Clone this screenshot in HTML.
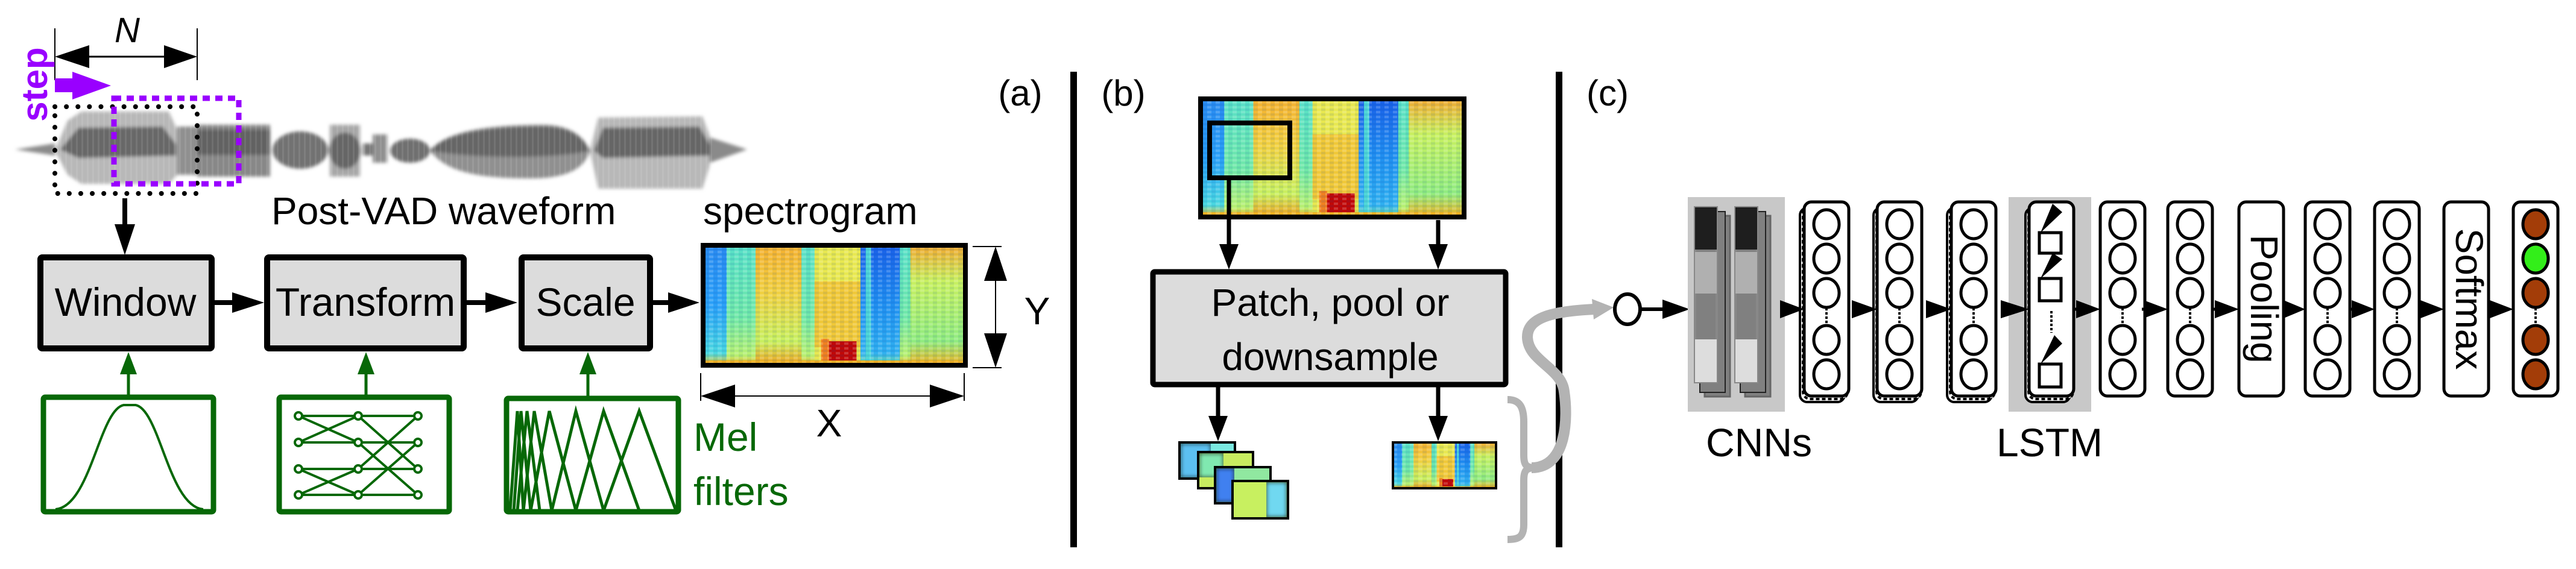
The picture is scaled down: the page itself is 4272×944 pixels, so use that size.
<!DOCTYPE html>
<html><head><meta charset="utf-8"><style>
html,body{margin:0;padding:0;background:#fff}
svg{display:block}
text{font-family:"Liberation Sans",sans-serif}
</style></head><body>
<svg width="4272" height="944" viewBox="0 0 4272 944" xmlns="http://www.w3.org/2000/svg">
<defs>
<filter id="blurW" x="-5%" y="-20%" width="110%" height="140%"><feGaussianBlur stdDeviation="3"/></filter>
<filter id="blurS" x="0" y="0" width="100%" height="100%"><feGaussianBlur stdDeviation="3"/></filter>
<linearGradient id="gBlue" x1="0" y1="0" x2="0" y2="1"><stop offset="0" stop-color="#2a8af0"/><stop offset="0.5" stop-color="#2aa0f8"/><stop offset="0.9" stop-color="#4ad8e0"/><stop offset="1" stop-color="#f0c020"/></linearGradient>
<linearGradient id="gCyan" x1="0" y1="0" x2="0" y2="1"><stop offset="0" stop-color="#58e0c8"/><stop offset="0.6" stop-color="#70e8a8"/><stop offset="0.92" stop-color="#b8f070"/><stop offset="1" stop-color="#f0b020"/></linearGradient>
<linearGradient id="gOr" x1="0" y1="0" x2="0" y2="1"><stop offset="0" stop-color="#f4b030"/><stop offset="0.4" stop-color="#f0d040"/><stop offset="0.8" stop-color="#c8f060"/><stop offset="1" stop-color="#f0a020"/></linearGradient>
<linearGradient id="gDb" x1="0" y1="0" x2="0" y2="1"><stop offset="0" stop-color="#1a60e8"/><stop offset="0.5" stop-color="#2090f0"/><stop offset="0.9" stop-color="#30b0f0"/><stop offset="1" stop-color="#70e0a0"/></linearGradient>
<linearGradient id="gYG" x1="0" y1="0" x2="0" y2="1"><stop offset="0" stop-color="#f0a830"/><stop offset="0.3" stop-color="#c8f060"/><stop offset="0.8" stop-color="#90ec80"/><stop offset="1" stop-color="#f0b020"/></linearGradient>
<pattern id="tex" width="14" height="8" patternUnits="userSpaceOnUse"><rect width="7" height="4" fill="#fff" opacity="0.18"/><rect x="7" y="4" width="7" height="4" fill="#0040a0" opacity="0.1"/></pattern>
<pattern id="streak" width="9" height="10" patternUnits="userSpaceOnUse"><rect width="3" height="10" fill="#fff" opacity="0.15"/></pattern>
<symbol id="spec" viewBox="0 0 200 100" preserveAspectRatio="none">
<rect x="0" y="0" width="19" height="100" fill="url(#gBlue)"/>
<rect x="18" y="0" width="23" height="100" fill="url(#gCyan)"/>
<rect x="40" y="0" width="36" height="100" fill="url(#gOr)"/>
<rect x="75" y="0" width="11" height="100" fill="url(#gCyan)"/>
<rect x="85" y="0" width="36" height="100" fill="#e8e850"/>
<rect x="85" y="30" width="36" height="55" fill="#f0c838"/>
<rect x="95" y="80" width="22" height="17" fill="#c00808"/>
<rect x="90" y="78" width="6" height="19" fill="#f08020"/>
<rect x="120" y="0" width="5" height="100" fill="url(#gDb)"/>
<rect x="124" y="0" width="5" height="100" fill="#50d8d8"/>
<rect x="128" y="0" width="23" height="100" fill="url(#gDb)"/>
<rect x="150" y="0" width="9" height="100" fill="url(#gCyan)"/>
<rect x="158" y="0" width="42" height="100" fill="url(#gYG)"/>
<rect x="0" y="96" width="200" height="4" fill="#f0b020"/>
</symbol>
<symbol id="col" viewBox="-40 -4 80 330" width="80" height="330" overflow="visible">
<rect x="-37" y="0" width="74" height="322" rx="12" fill="#fff" stroke="#000" stroke-width="5"/>
<g fill="#fff" stroke="#000" stroke-width="5"><ellipse cx="0" cy="37" rx="21" ry="24"/><ellipse cx="0" cy="94" rx="21" ry="24"/><ellipse cx="0" cy="151" rx="21" ry="24"/><ellipse cx="0" cy="229" rx="21" ry="24"/><ellipse cx="0" cy="286" rx="21" ry="24"/></g>
<line x1="0" y1="176" x2="0" y2="204" stroke="#000" stroke-width="4" stroke-dasharray="4,3"/>
</symbol>
<symbol id="shad" viewBox="-50 -4 90 345" width="90" height="345" overflow="visible">
<rect x="-47" y="10" width="74" height="322" rx="12" fill="#fff" stroke="#000" stroke-width="4"/>
<rect x="-42" y="5" width="74" height="322" rx="12" fill="#fff" stroke="#000" stroke-width="4" stroke-dasharray="6,4"/>
</symbol>
</defs>

<!-- ===== Panel (a) ===== -->
<line x1="91" y1="47" x2="91" y2="133" stroke="#000" stroke-width="2"/>
<line x1="327" y1="47" x2="327" y2="133" stroke="#000" stroke-width="2"/>
<line x1="120" y1="94" x2="300" y2="94" stroke="#000" stroke-width="3"/>
<polygon points="91,94 148,75 148,113" fill="#000"/>
<polygon points="327,94 272,75 272,113" fill="#000"/>
<text x="211" y="70" font-size="58" font-style="italic" text-anchor="middle">N</text>
<text transform="translate(78,140) rotate(-90)" font-size="60" font-weight="bold" fill="#9900ff" text-anchor="middle">step</text>
<polygon points="91,130 120,130 120,119 184,142 120,165 120,153 91,153" fill="#9900ff"/>
<!-- waveform -->
<g filter="url(#blurW)">
<polygon points="25,248 91,238 91,258" fill="#8a8a8a"/>
<polygon points="91,250 112,200 135,185 280,185 294,215 294,290 280,305 135,305 112,290" fill="#b8b8b8"/>
<polygon points="100,248 130,212 270,210 292,240 292,258 130,262" fill="#686868"/>
<rect x="294" y="210" width="33" height="80" fill="#909090"/>
<rect x="327" y="207" width="121" height="86" fill="#888"/>
<rect x="327" y="215" width="121" height="42" fill="#626262"/>
<ellipse cx="498" cy="249" rx="46" ry="31" fill="#727272"/>
<rect x="547" y="207" width="50" height="86" fill="#a8a8a8"/>
<ellipse cx="572" cy="250" rx="26" ry="30" fill="#666"/>
<rect x="602" y="238" width="16" height="20" fill="#777"/>
<rect x="618" y="223" width="24" height="47" fill="#909090"/>
<ellipse cx="680" cy="250" rx="33" ry="20" fill="#707070"/>
<path d="M713,250 C740,215 820,207 900,207 C950,207 970,230 978,250 C970,280 940,296 880,296 C790,296 740,285 713,250 Z" fill="#909090"/>
<path d="M713,250 C740,218 820,210 900,210 C950,210 970,232 978,250 C930,262 800,265 713,250 Z" fill="#666"/>
<polygon points="978,250 992,195 1165,193 1177,225 1177,275 1165,313 992,313" fill="#b8b8b8"/>
<polygon points="985,250 1000,212 1160,210 1177,240 1177,258 1000,262" fill="#666"/>
<polygon points="1177,228 1239,248 1177,270" fill="#8a8a8a"/>
</g>
<rect x="91" y="185" width="1090" height="128" fill="url(#streak)" opacity="0.6"/>
<rect x="91" y="177" width="236" height="144" fill="none" stroke="#000" stroke-width="8" stroke-dasharray="0.1,19" stroke-linecap="round"/>
<rect x="189" y="163" width="207" height="142" fill="none" stroke="#9900ff" stroke-width="9" stroke-dasharray="12,9"/>
<text x="450" y="372" font-size="64">Post-VAD waveform</text>
<text x="1166" y="372" font-size="64">spectrogram</text>
<line x1="207" y1="329" x2="207" y2="390" stroke="#000" stroke-width="8"/>
<polygon points="190,372 224,372 207,423" fill="#000"/>
<rect x="67" y="427" width="284" height="151" fill="#dcdcdc" stroke="#000" stroke-width="10" rx="3"/>
<rect x="443" y="427" width="326" height="151" fill="#dcdcdc" stroke="#000" stroke-width="10" rx="3"/>
<rect x="865" y="427" width="213" height="151" fill="#dcdcdc" stroke="#000" stroke-width="10" rx="3"/>
<text x="208" y="524" font-size="66" text-anchor="middle">Window</text>
<text x="606" y="524" font-size="66" text-anchor="middle">Transform</text>
<text x="971" y="524" font-size="66" text-anchor="middle">Scale</text>
<line x1="356" y1="502" x2="390" y2="502" stroke="#000" stroke-width="8"/>
<polygon points="385,485 438,502 385,519" fill="#000"/>
<line x1="774" y1="502" x2="810" y2="502" stroke="#000" stroke-width="8"/>
<polygon points="805,485 858,502 805,519" fill="#000"/>
<line x1="1083" y1="502" x2="1112" y2="502" stroke="#000" stroke-width="8"/>
<polygon points="1108,485 1160,502 1108,519" fill="#000"/>
<use href="#spec" x="1166" y="407" width="435" height="199"/>
<rect x="1166" y="407" width="435" height="199" fill="url(#tex)"/>
<rect x="1166" y="407" width="435" height="199" fill="none" stroke="#000" stroke-width="8"/>
<line x1="1613" y1="409" x2="1661" y2="409" stroke="#000" stroke-width="2"/>
<line x1="1613" y1="610" x2="1661" y2="610" stroke="#000" stroke-width="2"/>
<line x1="1651" y1="450" x2="1651" y2="570" stroke="#000" stroke-width="2"/>
<polygon points="1651,409 1632,466 1670,466" fill="#000"/>
<polygon points="1651,610 1632,553 1670,553" fill="#000"/>
<text x="1720" y="538" font-size="64" text-anchor="middle">Y</text>
<line x1="1162" y1="619" x2="1162" y2="665" stroke="#000" stroke-width="2"/>
<line x1="1599" y1="619" x2="1599" y2="665" stroke="#000" stroke-width="2"/>
<line x1="1200" y1="657" x2="1560" y2="657" stroke="#000" stroke-width="2"/>
<polygon points="1162,657 1219,638 1219,676" fill="#000"/>
<polygon points="1599,657 1542,638 1542,676" fill="#000"/>
<text x="1375" y="724" font-size="64" text-anchor="middle">X</text>
<g stroke="#076807" fill="none">
<line x1="213" y1="655" x2="213" y2="610" stroke-width="5"/>
<line x1="607" y1="655" x2="607" y2="610" stroke-width="5"/>
<line x1="975" y1="657" x2="975" y2="610" stroke-width="5"/>
<rect x="72" y="659" width="282" height="190" stroke-width="9" rx="3"/>
<rect x="463" y="659" width="282" height="190" stroke-width="9" rx="3"/>
<rect x="840" y="661" width="285" height="188" stroke-width="9" rx="3"/>
<path d="M92,845 C150,840 165,680 205,672 L225,672 C265,680 280,840 337,845" stroke-width="4"/>
<g stroke-width="4">
<line x1="495" y1="690" x2="693" y2="690"/><line x1="495" y1="734" x2="693" y2="734"/><line x1="495" y1="778" x2="693" y2="778"/><line x1="495" y1="821" x2="693" y2="821"/>
<line x1="495" y1="690" x2="594" y2="734"/><line x1="495" y1="734" x2="594" y2="690"/>
<line x1="495" y1="778" x2="594" y2="821"/><line x1="495" y1="821" x2="594" y2="778"/>
<line x1="594" y1="690" x2="693" y2="778"/><line x1="594" y1="778" x2="693" y2="690"/>
<line x1="594" y1="734" x2="693" y2="821"/><line x1="594" y1="821" x2="693" y2="734"/>
</g>
<g stroke-width="4" fill="#fff">
<circle cx="495" cy="690" r="6"/><circle cx="495" cy="734" r="6"/><circle cx="495" cy="778" r="6"/><circle cx="495" cy="821" r="6"/>
<circle cx="594" cy="690" r="6"/><circle cx="594" cy="734" r="6"/><circle cx="594" cy="778" r="6"/><circle cx="594" cy="821" r="6"/>
<circle cx="693" cy="690" r="6"/><circle cx="693" cy="734" r="6"/><circle cx="693" cy="778" r="6"/><circle cx="693" cy="821" r="6"/>
</g>
<polyline stroke-width="5" points="846,847 858,682 868,847"/>
<polyline stroke-width="5" points="852,847 864,682 880,847"/>
<polyline stroke-width="5" points="858,847 874,682 895,847"/>
<polyline stroke-width="5" points="868,847 886,682 915,847"/>
<polyline stroke-width="5" points="880,847 911,682 955,847"/>
<polyline stroke-width="5" points="915,847 955,682 1001,847"/>
<polyline stroke-width="5" points="955,847 1001,682 1060,847"/>
<polyline stroke-width="5" points="1001,847 1060,682 1121,847"/>
</g>
<polygon points="213,584 199,621 227,621" fill="#076807"/>
<polygon points="607,584 593,621 621,621" fill="#076807"/>
<polygon points="975,584 961,621 989,621" fill="#076807"/>
<text x="1150" y="748" font-size="66" fill="#076807">Mel</text>
<text x="1150" y="838" font-size="66" fill="#076807">filters</text>
<text x="1692" y="175" font-size="60" text-anchor="middle">(a)</text>

<rect x="1775" y="119" width="11" height="789" fill="#000"/>
<rect x="2580" y="119" width="11" height="789" fill="#000"/>

<!-- ===== Panel (b) ===== -->
<text x="1863" y="175" font-size="60" text-anchor="middle">(b)</text>
<text x="2666" y="175" font-size="60" text-anchor="middle">(c)</text>
<use href="#spec" x="1991" y="164" width="437" height="196"/>
<rect x="1991" y="164" width="437" height="196" fill="url(#tex)"/>
<rect x="1991" y="164" width="437" height="196" fill="none" stroke="#000" stroke-width="8"/>
<rect x="2006" y="204" width="133" height="91" fill="none" stroke="#000" stroke-width="8"/>
<line x1="2038" y1="297" x2="2038" y2="415" stroke="#000" stroke-width="7"/>
<polygon points="2022,405 2054,405 2038,447" fill="#000"/>
<line x1="2385" y1="365" x2="2385" y2="415" stroke="#000" stroke-width="7"/>
<polygon points="2369,405 2401,405 2385,447" fill="#000"/>
<rect x="1912" y="451" width="585" height="187" fill="#dcdcdc" stroke="#000" stroke-width="9" rx="3"/>
<text x="2206" y="524" font-size="64" text-anchor="middle">Patch, pool or</text>
<text x="2206" y="614" font-size="64" text-anchor="middle">downsample</text>
<line x1="2020" y1="642" x2="2020" y2="700" stroke="#000" stroke-width="7"/>
<polygon points="2004,690 2036,690 2020,732" fill="#000"/>
<line x1="2385" y1="642" x2="2385" y2="700" stroke="#000" stroke-width="7"/>
<polygon points="2369,690 2401,690 2385,732" fill="#000"/>
<g stroke="#000" stroke-width="4">
<rect x="1956" y="734" width="92" height="60" fill="#7ae8e0"/><rect x="1958" y="736" width="50" height="56" fill="#5cc0f0" filter="url(#blurS)"/><rect x="1956" y="734" width="92" height="60" fill="none"/>
<rect x="1987" y="750" width="91" height="60" fill="#c8ec60"/><rect x="1989" y="752" width="40" height="40" fill="#80e8b0" filter="url(#blurS)"/><rect x="1987" y="750" width="91" height="60" fill="none"/>
<rect x="2015" y="775" width="92" height="60" fill="#90e8a0"/><rect x="2017" y="777" width="30" height="56" fill="#4080f0" filter="url(#blurS)"/><rect x="2015" y="775" width="92" height="60" fill="none"/>
<rect x="2044" y="798" width="92" height="62" fill="#c8f060"/><rect x="2100" y="800" width="34" height="58" fill="#70d8f0" filter="url(#blurS)"/><rect x="2044" y="798" width="92" height="62" fill="none"/>
</g>
<use href="#spec" x="2310" y="734" width="171" height="76"/>
<rect x="2310" y="734" width="171" height="76" fill="url(#tex)"/>
<rect x="2310" y="734" width="171" height="76" fill="none" stroke="#000" stroke-width="4"/>
<path d="M2500,663 C2520,663 2527,675 2527,700 L2527,755 C2527,770 2530,776 2545,776 C2530,776 2527,782 2527,797 L2527,870 C2527,890 2520,895 2500,895" fill="none" stroke="#b3b3b3" stroke-width="12"/>
<path d="M2540,776 C2600,776 2600,690 2594,650 C2590,610 2535,600 2533,560 C2532,525 2580,516 2645,513" fill="none" stroke="#b3b3b3" stroke-width="18"/>
<polygon points="2640,496 2676,510 2643,530" fill="#b3b3b3"/>

<!-- ===== Panel (c) ===== -->
<ellipse cx="2699" cy="513" rx="21" ry="25" fill="#fff" stroke="#000" stroke-width="6"/>
<line x1="2720" y1="513" x2="2765" y2="513" stroke="#000" stroke-width="6"/>
<polygon points="2757,497 2802,513 2757,529" fill="#000"/>
<rect x="2799" y="327" width="161" height="356" fill="#c8c8c8"/>
<g>
<rect x="2827" y="358" width="42" height="300" fill="#808080" stroke="#666" stroke-width="3"/>
<rect x="2819" y="351" width="42" height="300" fill="#808080" stroke="#222" stroke-width="2"/>
<rect x="2811" y="344" width="36" height="290" fill="#808080" stroke="#888" stroke-width="4"/>
<rect x="2811" y="344" width="36" height="70" fill="#1e1e1e"/>
<rect x="2811" y="418" width="36" height="69" fill="#b0b0b0"/>
<rect x="2811" y="563" width="36" height="71" fill="#dddddd"/>
<rect x="2894" y="358" width="42" height="300" fill="#808080" stroke="#666" stroke-width="3"/>
<rect x="2886" y="351" width="42" height="300" fill="#808080" stroke="#222" stroke-width="2"/>
<rect x="2878" y="344" width="36" height="290" fill="#808080" stroke="#888" stroke-width="4"/>
<rect x="2878" y="344" width="36" height="70" fill="#1e1e1e"/>
<rect x="2878" y="418" width="36" height="69" fill="#b0b0b0"/>
<rect x="2878" y="563" width="36" height="71" fill="#dddddd"/>
</g>
<rect x="3331" y="327" width="137" height="356" fill="#c8c8c8"/>
<use href="#shad" x="2982" y="331"/>
<use href="#shad" x="3104" y="331"/>
<use href="#shad" x="3226" y="331"/>
<use href="#shad" x="3356" y="331"/>
<use href="#col" x="2989" y="331"/>
<use href="#col" x="3110" y="331"/>
<use href="#col" x="3233" y="331"/>
<rect x="3365" y="335" width="74" height="322" rx="12" fill="#fff" stroke="#000" stroke-width="5"/>
<g fill="#fff" stroke="#000" stroke-width="5">
<rect x="3382" y="386" width="36" height="34"/><rect x="3382" y="462" width="36" height="37"/><rect x="3382" y="604" width="36" height="38"/>
</g>
<polygon points="3384,386 3404,338 3420,352" fill="#000"/>
<polygon points="3384,462 3404,420 3420,430" fill="#000"/>
<polygon points="3384,604 3407,556 3420,570" fill="#000"/>
<line x1="3402" y1="516" x2="3402" y2="552" stroke="#000" stroke-width="4" stroke-dasharray="4,3"/>
<use href="#col" x="3480" y="331"/>
<use href="#col" x="3592" y="331"/>
<rect x="3713" y="335" width="74" height="322" rx="12" fill="#fff" stroke="#000" stroke-width="5"/>
<text transform="translate(3733,496) rotate(90)" font-size="64" text-anchor="middle">Pooling</text>
<use href="#col" x="3820" y="331"/>
<use href="#col" x="3935" y="331"/>
<rect x="4053" y="335" width="74" height="322" rx="12" fill="#fff" stroke="#000" stroke-width="5"/>
<text transform="translate(4073,496) rotate(90)" font-size="64" text-anchor="middle">Softmax</text>
<rect x="4168" y="335" width="74" height="322" rx="12" fill="#fff" stroke="#000" stroke-width="5"/>
<g stroke="#000" stroke-width="5">
<ellipse cx="4205" cy="372" rx="21" ry="24" fill="#a33d08"/>
<ellipse cx="4205" cy="429" rx="21" ry="24" fill="#33ee1a"/>
<ellipse cx="4205" cy="486" rx="21" ry="24" fill="#a33d08"/>
<ellipse cx="4205" cy="564" rx="21" ry="24" fill="#a33d08"/>
<ellipse cx="4205" cy="621" rx="21" ry="24" fill="#a33d08"/>
</g>
<line x1="4205" y1="511" x2="4205" y2="539" stroke="#000" stroke-width="4" stroke-dasharray="4,3"/>
<g fill="#000">
<polygon points="2952,498 2992,513 2952,528"/>
<polygon points="3071,498 3113,513 3071,528"/>
<polygon points="3194,498 3236,513 3194,528"/>
<polygon points="3318,498 3365,513 3318,528"/>
<polygon points="3443,498 3483,513 3443,528"/>
<polygon points="3555,498 3595,513 3555,528"/>
<polygon points="3673,498 3713,513 3673,528"/>
<polygon points="3787,498 3823,513 3787,528"/>
<polygon points="3900,498 3938,513 3900,528"/>
<polygon points="4014,498 4053,513 4014,528"/>
<polygon points="4129,498 4168,513 4129,528"/>
</g>
<g stroke="#000" stroke-width="5">
<line x1="3440" y1="513" x2="3450" y2="513"/><line x1="3552" y1="513" x2="3560" y2="513"/>
<line x1="3668" y1="513" x2="3678" y2="513"/><line x1="3785" y1="513" x2="3792" y2="513"/>
<line x1="3898" y1="513" x2="3905" y2="513"/><line x1="4010" y1="513" x2="4018" y2="513"/>
<line x1="4127" y1="513" x2="4134" y2="513"/>
</g>
<text x="2917" y="757" font-size="66" text-anchor="middle">CNNs</text>
<text x="3399" y="757" font-size="66" text-anchor="middle">LSTM</text>
</svg>
</body></html>
